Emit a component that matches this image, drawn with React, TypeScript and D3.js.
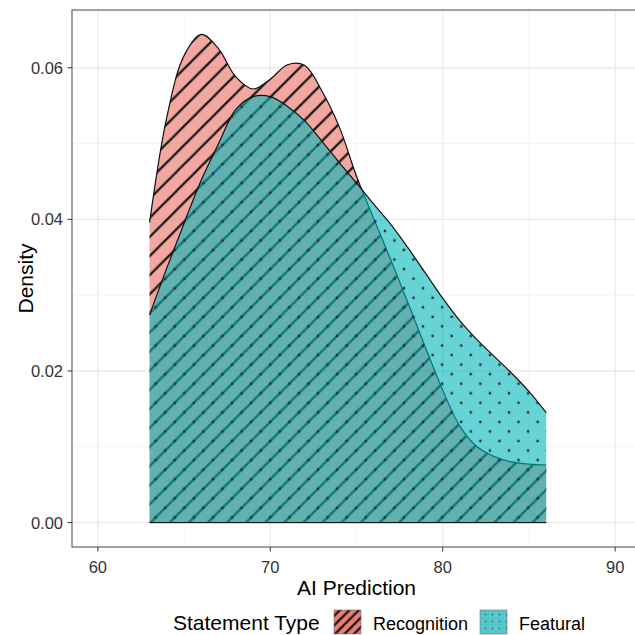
import React, { useEffect, useRef } from "react";
import * as d3 from "d3";

const aiPrediction = [63, 64, 65, 66, 67, 68, 69, 70, 71, 72, 73, 74, 75, 76, 77, 78, 79, 80, 81, 82, 83, 84, 85, 86];
const recognitionDensity = [0.0396, 0.0535, 0.0616, 0.0644, 0.0625, 0.0588, 0.0572, 0.0585, 0.0604, 0.0603, 0.0569, 0.0522, 0.0457, 0.0401, 0.0346, 0.0289, 0.0231, 0.0175, 0.0127, 0.01, 0.0087, 0.008, 0.0077, 0.0076];
const featuralDensity = [0.0274, 0.0336, 0.0395, 0.0452, 0.05, 0.0545, 0.0562, 0.0562, 0.0549, 0.053, 0.0503, 0.0475, 0.0448, 0.042, 0.0393, 0.0362, 0.0329, 0.0296, 0.0266, 0.0241, 0.0219, 0.0197, 0.0173, 0.0145];
const xLimits = [60, 90];
const xTicks = [60, 70, 80, 90];
const xMinor = [65, 75, 85];
const yTicks = [0, 0.02, 0.04, 0.06];
const yMinor = [0.01, 0.03, 0.05];
const seriesNames = ["Recognition", "Featural"];
const legendTitle = "Statement Type";
const xTitle = "AI Prediction";
const yTitle = "Density";

const font = "'Liberation Sans', Arial, Helvetica, sans-serif";

const App = () => {
  const chartEl = useRef<SVGSVGElement>(null);

  useEffect(() => {
    const panel = { left: 72, right: 641, top: 10, bottom: 547 };

    const svg = d3.select(chartEl.current);
    svg.selectAll("*").remove();

    const span = xLimits[1] - xLimits[0];
    const xScale = d3
      .scaleLinear()
      .domain([xLimits[0] - span * 0.05, xLimits[1] + span * 0.05])
      .range([panel.left, panel.right]);

    const yMax = d3.max([...recognitionDensity, ...featuralDensity]) as number;
    const yScale = d3
      .scaleLinear()
      .domain([-yMax * 0.05, yMax * 1.05])
      .range([panel.bottom, panel.top]);

    // patterns
    const defs = svg.append("defs");
    const p = 19.1;
    const stripes = defs
      .append("pattern")
      .attr("id", "stripes")
      .attr("patternUnits", "userSpaceOnUse")
      .attr("x", 4.6)
      .attr("y", 0)
      .attr("width", p)
      .attr("height", p);
    [
      [-5, 5, 5, -5],
      [0, p, p, 0],
      [p - 5, p + 5, p + 5, p - 5],
    ].forEach((l) => {
      stripes
        .append("line")
        .attr("x1", l[0])
        .attr("y1", l[1])
        .attr("x2", l[2])
        .attr("y2", l[3])
        .attr("stroke", "#1a1a1a")
        .attr("stroke-width", 2.3);
    });

    const dots = defs
      .append("pattern")
      .attr("id", "dots")
      .attr("patternUnits", "userSpaceOnUse")
      .attr("x", 2.85)
      .attr("y", 1.75)
      .attr("width", p)
      .attr("height", p);
    [
      [0, 0],
      [p, 0],
      [0, p],
      [p, p],
      [p / 2, p / 2],
    ].forEach((d) => {
      dots.append("circle").attr("cx", d[0]).attr("cy", d[1]).attr("r", 1.35).attr("fill", "#2e2e2e");
    });

    const keyStripes = defs
      .append("pattern")
      .attr("id", "keyStripes")
      .attr("patternUnits", "userSpaceOnUse")
      .attr("width", 9.5)
      .attr("height", 9.5);
    [
      [-3, 3, 3, -3],
      [0, 9.5, 9.5, 0],
      [6.5, 12.5, 12.5, 6.5],
    ].forEach((l) => {
      keyStripes
        .append("line")
        .attr("x1", l[0])
        .attr("y1", l[1])
        .attr("x2", l[2])
        .attr("y2", l[3])
        .attr("stroke", "#1a1a1a")
        .attr("stroke-width", 2.4);
    });
    const keyDots = defs
      .append("pattern")
      .attr("id", "keyDots")
      .attr("patternUnits", "userSpaceOnUse")
      .attr("x", 482)
      .attr("y", 611)
      .attr("width", 7)
      .attr("height", 7);
    keyDots.append("circle").attr("cx", 3.5).attr("cy", 3.5).attr("r", 0.9).attr("fill", "#4a6f70");

    // grid
    const grid = svg.append("g");
    xMinor.forEach((v) => {
      grid
        .append("line")
        .attr("x1", xScale(v))
        .attr("x2", xScale(v))
        .attr("y1", panel.top)
        .attr("y2", panel.bottom)
        .attr("stroke", "#f2f2f2")
        .attr("stroke-width", 0.8);
    });
    yMinor.forEach((v) => {
      grid
        .append("line")
        .attr("x1", panel.left)
        .attr("x2", panel.right)
        .attr("y1", yScale(v))
        .attr("y2", yScale(v))
        .attr("stroke", "#f2f2f2")
        .attr("stroke-width", 0.8);
    });
    xTicks.forEach((v) => {
      grid
        .append("line")
        .attr("x1", xScale(v))
        .attr("x2", xScale(v))
        .attr("y1", panel.top)
        .attr("y2", panel.bottom)
        .attr("stroke", "#ebebeb")
        .attr("stroke-width", 1.3);
    });
    yTicks.forEach((v) => {
      grid
        .append("line")
        .attr("x1", panel.left)
        .attr("x2", panel.right)
        .attr("y1", yScale(v))
        .attr("y2", yScale(v))
        .attr("stroke", "#ebebeb")
        .attr("stroke-width", 1.3);
    });

    const curve = d3.curveCatmullRom.alpha(0.5);
    const area = d3
      .area<number>()
      .x((d, i) => xScale(aiPrediction[i]))
      .y0(yScale(0))
      .y1((d) => yScale(d))
      .curve(curve);
    const line = d3
      .line<number>()
      .x((d, i) => xScale(aiPrediction[i]))
      .y((d) => yScale(d))
      .curve(curve);

    const drawLayer = (values: number[], color: string, pattern: string) => {
      const g = svg.append("g");
      g.append("path").datum(values).attr("d", area).attr("fill", color).attr("fill-opacity", 0.6);
      g.append("path").datum(values).attr("d", area).attr("fill", `url(#${pattern})`);
      g.append("path")
        .datum(values)
        .attr("d", line)
        .attr("fill", "none")
        .attr("stroke", "#111")
        .attr("stroke-width", 1.2);
      g.append("line")
        .attr("x1", xScale(aiPrediction[0]))
        .attr("x2", xScale(aiPrediction[aiPrediction.length - 1]))
        .attr("y1", yScale(0))
        .attr("y2", yScale(0))
        .attr("stroke", "#111")
        .attr("stroke-width", 1);
    };
    drawLayer(recognitionDensity, "#EC6C60", "stripes");
    drawLayer(featuralDensity, "#00B5BA", "dots");

    // border
    svg
      .append("rect")
      .attr("x", panel.left)
      .attr("y", panel.top)
      .attr("width", panel.right - panel.left)
      .attr("height", panel.bottom - panel.top)
      .attr("fill", "none")
      .attr("stroke", "#555")
      .attr("stroke-width", 1.1);

    // axes
    const axes = svg.append("g").attr("font-family", font);
    yTicks.forEach((v) => {
      axes
        .append("line")
        .attr("x1", panel.left - 4.5)
        .attr("x2", panel.left)
        .attr("y1", yScale(v))
        .attr("y2", yScale(v))
        .attr("stroke", "#333");
      axes
        .append("text")
        .attr("x", panel.left - 9)
        .attr("y", yScale(v) + 6)
        .attr("text-anchor", "end")
        .attr("font-size", 16.5)
        .attr("fill", "#333")
        .text(d3.format(".2f")(v));
    });
    xTicks.forEach((v) => {
      axes
        .append("line")
        .attr("x1", xScale(v))
        .attr("x2", xScale(v))
        .attr("y1", panel.bottom)
        .attr("y2", panel.bottom + 4.5)
        .attr("stroke", "#333");
      axes
        .append("text")
        .attr("x", xScale(v))
        .attr("y", 573)
        .attr("text-anchor", "middle")
        .attr("font-size", 16.5)
        .attr("fill", "#333")
        .text(v);
    });
    axes
      .append("text")
      .attr("x", (panel.left + panel.right) / 2)
      .attr("y", 595)
      .attr("text-anchor", "middle")
      .attr("font-size", 21)
      .attr("fill", "#000")
      .text(xTitle);
    axes
      .append("text")
      .attr("transform", `translate(33, ${(panel.top + panel.bottom) / 2}) rotate(-90)`)
      .attr("text-anchor", "middle")
      .attr("font-size", 21)
      .attr("fill", "#000")
      .text(yTitle);

    // legend
    const legend = svg.append("g").attr("font-family", font);
    legend.append("text").attr("x", 173).attr("y", 630).attr("font-size", 21).text(legendTitle);
    const keys = [
      { x: 334, fill: "#F07C72", pattern: "keyStripes", label: seriesNames[0], lx: 373 },
      { x: 480, fill: "#55C6CA", pattern: "keyDots", label: seriesNames[1], lx: 519 },
    ];
    keys.forEach((k) => {
      legend.append("rect").attr("x", k.x).attr("y", 610).attr("width", 27).attr("height", 24).attr("fill", k.fill);
      legend
        .append("rect")
        .attr("x", k.x)
        .attr("y", 610)
        .attr("width", 27)
        .attr("height", 24)
        .attr("fill", `url(#${k.pattern})`)
        .attr("stroke", "#777")
        .attr("stroke-width", 0.6);
      legend.append("text").attr("x", k.lx).attr("y", 630).attr("font-size", 18).text(k.label);
    });
  }, [chartEl]);

  return (
    <svg
      ref={chartEl}
      width={635}
      height={635}
      style={{ position: "fixed", left: 0, top: 0, background: "#fff" }}
    ></svg>
  );
};

export default App;
